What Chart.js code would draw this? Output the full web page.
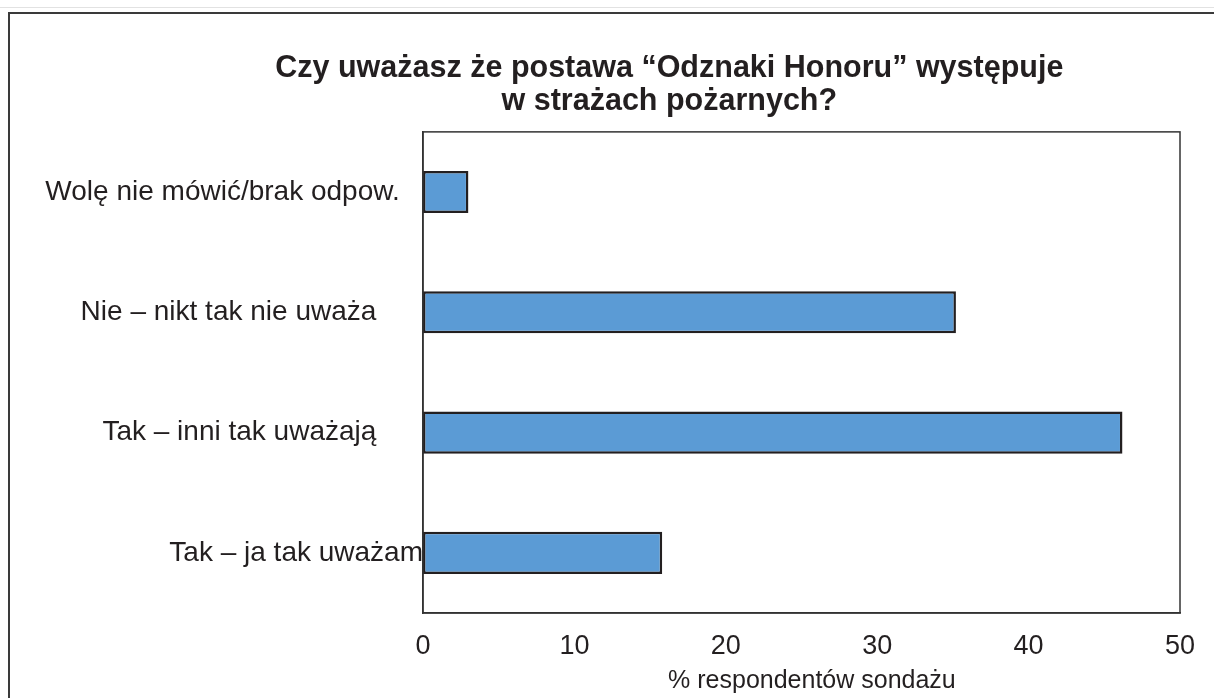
<!DOCTYPE html>
<html>
<head>
<meta charset="utf-8">
<script src="https://cdn.jsdelivr.net/npm/chart.js@4.4.1/dist/chart.umd.min.js"></script>
<style>
  html, body { margin: 0; padding: 0; background: #fff; overflow: hidden; }
  #topline { position: absolute; left: 0; top: 7px; width: 1214px; height: 1px; background: #e2e2e2; }
  #frame { position: absolute; left: 8px; top: 12px; width: 1400px; height: 900px;
           border-top: 2px solid #3a3a3a; border-left: 2px solid #3a3a3a; }
  #wrap { position: absolute; left: 0; top: 0; width: 1214px; height: 698px; }
</style>
</head>
<body>
<div id="topline"></div>
<div id="frame"></div>
<div id="wrap"><canvas id="chart"></canvas></div>
<script>
// categories (trailing spaces keep the original label offsets)
var categories = [
    "Wolę nie mówić/brak odpow.   ",
    "Nie – nikt tak nie uważa      ",
    "Tak – inni tak uważają      ",
    "Tak – ja tak uważam"
];
var percents = [3, 35.2, 46.2, 15.8];
var xTicks = [0, 10, 20, 30, 40, 50];

// leading spaces push the centred titles to the right, as in the original
var titleLines = [
    "              Czy uważasz że postawa “Odznaki Honoru” występuje",
    "              w strażach pożarnych?"
];
var xTitle = "   % respondentów sondażu";

var FONT = "'Liberation Sans', Arial, Helvetica, sans-serif";
var INK = "#231f20";

// box round the plot area
var plotBox = {
    id: "plotBox",
    afterDraw: function (chart) {
        var a = chart.chartArea;
        var ctx = chart.ctx;
        ctx.save();
        ctx.strokeStyle = "#333";
        ctx.lineWidth = 1.5;
        ctx.strokeRect(a.left, a.top, a.right - a.left, a.bottom - a.top);
        ctx.restore();
    }
};

var ctx = document.getElementById("chart").getContext("2d");
var chart = new Chart(ctx, {
    type: "bar",
    data: {
        labels: categories,
        datasets: [{
            data: percents,
            backgroundColor: "#5b9bd5",
            borderColor: INK,
            borderWidth: 2.5,
            borderSkipped: false,
            barPercentage: 0.35,
            categoryPercentage: 1
        }]
    },
    options: {
        indexAxis: "y",
        responsive: true,
        maintainAspectRatio: false,
        animation: false,
        layout: {
            padding: { left: 40, right: 34, top: 0, bottom: 0 }
        },
        plugins: {
            legend: { display: false },
            tooltip: { enabled: false },
            title: {
                display: true,
                text: titleLines,
                color: INK,
                font: { family: FONT, size: 30.5, weight: "bold", lineHeight: 1.08 },
                padding: { top: 52, bottom: 14 }
            }
        },
        scales: {
            x: {
                min: 0,
                max: 50,
                afterBuildTicks: function (scale) {
                    scale.ticks = xTicks.map(function (v) { return { value: v }; });
                },
                afterFit: function (scale) { scale.height = 85; },
                grid: { display: false, drawTicks: false },
                border: { display: true, color: "#333", width: 1.5 },
                ticks: {
                    color: INK,
                    padding: 17,
                    font: { family: FONT, size: 27 }
                },
                title: {
                    display: true,
                    text: xTitle,
                    color: INK,
                    font: { family: FONT, size: 25 },
                    padding: { top: 0, bottom: 2 }
                }
            },
            y: {
                afterFit: function (scale) { scale.width = 383; },
                grid: { display: false, drawTicks: false },
                border: { display: true, color: "#333", width: 1.5 },
                ticks: {
                    color: INK,
                    padding: 0,
                    font: { family: FONT, size: 28 }
                }
            }
        }
    },
    plugins: [plotBox]
});
</script>
</body>
</html>
